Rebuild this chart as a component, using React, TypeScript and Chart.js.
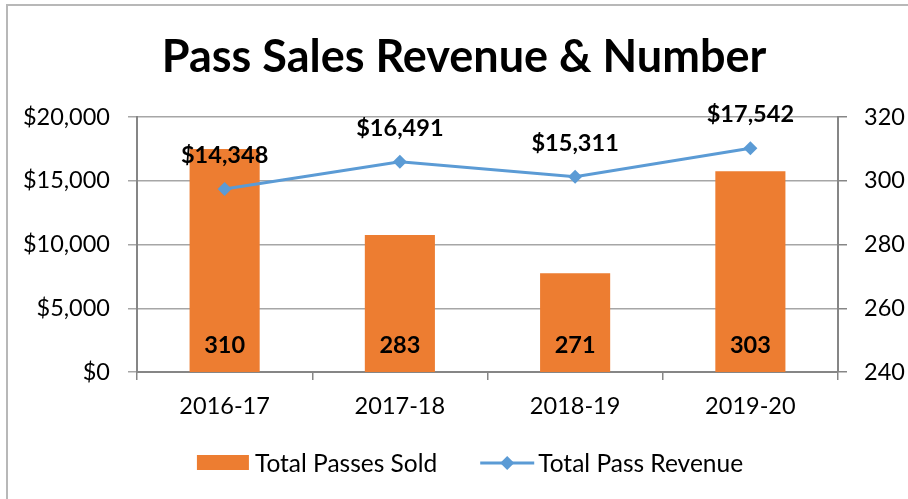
import React, { useEffect, useRef } from "react";
import { Chart, registerables } from "chart.js";

Chart.register(...registerables);

const categories = ["2016-17", "2017-18", "2018-19", "2019-20"];
const passesSold = [310, 283, 271, 303];
const passRevenue = [14348, 16491, 15311, 17542];
const revenueRange = [0, 20000];
const revenueStep = 5000;
const passesRange = [240, 320];
const passesStep = 20;
const titleText = "Pass Sales Revenue & Number";
const seriesNames = ["Total Passes Sold", "Total Pass Revenue"];

const FONT = "Lato, 'Open Sans', sans-serif";
const ORANGE = "#ED7D31";
const BLUE = "#5B9BD5";
const GRID = "#a6a6a6";
const AXIS = "#868686";

const fmtMoney = (v: number) => "$" + Math.round(v).toLocaleString("en-US");

function drawDiamond(ctx: CanvasRenderingContext2D, x: number, y: number, r: number) {
  ctx.beginPath();
  ctx.moveTo(x, y - r);
  ctx.lineTo(x + r, y);
  ctx.lineTo(x, y + r);
  ctx.lineTo(x - r, y);
  ctx.closePath();
  ctx.fill();
}

const overlayPlugin = {
  id: "overlay",
  afterDatasetsDraw(chart: any) {
    const ctx: CanvasRenderingContext2D = chart.ctx;
    ctx.save();
    ctx.fillStyle = "#000";
    ctx.font = `bold 23.5px ${FONT}`;
    ctx.textAlign = "center";
    ctx.textBaseline = "alphabetic";
    const barMeta = chart.getDatasetMeta(0);
    barMeta.data.forEach((el: any, i: number) => {
      ctx.fillText(String(passesSold[i]), el.x, chart.chartArea.bottom - 19);
    });
    const lineMeta = chart.getDatasetMeta(1);
    lineMeta.data.forEach((el: any, i: number) => {
      ctx.fillText(fmtMoney(passRevenue[i]), el.x, el.y - 26);
    });
    ctx.restore();
  },
  afterDraw(chart: any) {
    const ctx: CanvasRenderingContext2D = chart.ctx;
    ctx.save();
    // title
    ctx.fillStyle = "#000";
    ctx.font = `bold 45px ${FONT}`;
    ctx.textAlign = "center";
    ctx.textBaseline = "alphabetic";
    ctx.fillText(titleText, 464, 72);

    // legend
    ctx.font = `24.5px ${FONT}`;
    ctx.textAlign = "left";
    ctx.textBaseline = "middle";
    const w1 = ctx.measureText(seriesNames[0]).width;
    const w2 = ctx.measureText(seriesNames[1]).width;
    const total = 52 + 6 + w1 + 43 + 54 + 4 + w2;
    let x = 470 - total / 2;
    const y = 463;
    ctx.fillStyle = ORANGE;
    ctx.fillRect(x, y - 8, 52, 15);
    x += 52 + 6;
    ctx.fillStyle = "#000";
    ctx.fillText(seriesNames[0], x, y + 1);
    x += w1 + 43;
    ctx.strokeStyle = BLUE;
    ctx.lineWidth = 3;
    ctx.beginPath();
    ctx.moveTo(x, y);
    ctx.lineTo(x + 54, y);
    ctx.stroke();
    ctx.fillStyle = BLUE;
    drawDiamond(ctx, x + 27, y, 7);
    x += 54 + 4;
    ctx.fillStyle = "#000";
    ctx.fillText(seriesNames[1], x, y + 1);
    ctx.restore();
  },
};

export default function App() {
  const canvasRef = useRef<HTMLCanvasElement | null>(null);

  useEffect(() => {
    const canvas = canvasRef.current;
    if (!canvas) return;
    const chart = new Chart(canvas, {
      type: "bar",
      data: {
        labels: categories,
        datasets: [
          {
            type: "bar",
            label: seriesNames[0],
            data: passesSold,
            backgroundColor: ORANGE,
            borderWidth: 0,
            yAxisID: "y1",
            barPercentage: 0.4,
            categoryPercentage: 1,
            order: 1,
          },
          {
            type: "line",
            label: seriesNames[1],
            data: passRevenue,
            borderColor: BLUE,
            backgroundColor: BLUE,
            borderWidth: 3,
            pointStyle: "rectRot",
            pointRadius: 7,
            pointBorderWidth: 0,
            pointBackgroundColor: BLUE,
            yAxisID: "y",
            order: 0,
            tension: 0,
          },
        ],
      },
      options: {
        responsive: false,
        animation: false,
        devicePixelRatio: 1,
        layout: { padding: { top: 117, left: 0, right: 0, bottom: 0 } },
        plugins: {
          legend: { display: false },
          title: { display: false },
          tooltip: { enabled: false },
        },
        scales: {
          x: {
            position: "bottom",
            grid: {
              offset: true,
              drawOnChartArea: false,
              drawTicks: true,
              tickLength: 8,
              color: AXIS,
              lineWidth: 1.5,
            },
            border: { display: true, color: AXIS, width: 2 },
            ticks: {
              color: "#000",
              font: { family: FONT, size: 23.5 },
              padding: 12,
            },
            afterFit: (s: any) => {
              s.height = 127;
            },
          },
          y: {
            position: "left",
            min: revenueRange[0],
            max: revenueRange[1],
            grid: {
              color: GRID,
              lineWidth: 1.5,
              drawTicks: true,
              tickLength: 9,
            },
            border: { display: true, color: AXIS, width: 2 },
            ticks: {
              stepSize: revenueStep,
              color: "#000",
              font: { family: FONT, size: 23.5 },
              padding: 18,
              callback: (v: any) => fmtMoney(Number(v)),
            },
            afterFit: (s: any) => {
              s.width = 137;
            },
          },
          y1: {
            position: "right",
            min: passesRange[0],
            max: passesRange[1],
            grid: {
              drawOnChartArea: false,
              drawTicks: true,
              tickLength: 9,
              color: AXIS,
              lineWidth: 1.5,
            },
            border: { display: true, color: AXIS, width: 2 },
            ticks: {
              stepSize: passesStep,
              color: "#000",
              font: { family: FONT, size: 23.5 },
              padding: 17,
            },
            afterFit: (s: any) => {
              s.width = 70;
            },
          },
        },
      },
      plugins: [overlayPlugin],
    } as any);
    return () => chart.destroy();
  }, []);

  return (
    <div
      style={{
        position: "fixed",
        left: 0,
        top: 0,
        width: 908,
        height: 499,
        overflow: "hidden",
        background: "#fff",
      }}
    >
      <canvas
        ref={canvasRef}
        width={908}
        height={499}
        style={{ position: "absolute", left: 0, top: 0, width: 908, height: 499 }}
      />
      <div
        style={{
          position: "absolute",
          left: 6,
          top: 4,
          width: 960,
          height: 560,
          boxSizing: "border-box",
          border: "2px solid #b8b8b8",
          pointerEvents: "none",
        }}
      />
    </div>
  );
}
